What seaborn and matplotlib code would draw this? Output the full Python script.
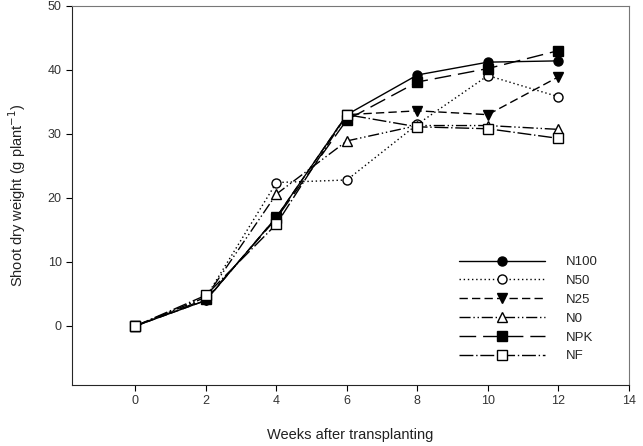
import numpy as np
import pandas as pd
import seaborn as sns
import matplotlib.pyplot as plt

# weeks after transplanting
weeks = [0, 2, 4, 6, 8, 10, 12]

# shoot dry weight per treatment (g plant-1)
n100 = [0, 4.0, 17.0, 33.0, 39.2, 41.2, 41.4]
n50 = [0, 4.5, 22.4, 22.8, 31.5, 39.1, 35.8]
n25 = [0, 4.0, 17.0, 33.0, 33.6, 33.0, 38.9]
n0 = [0, 4.5, 20.6, 28.9, 31.3, 31.3, 30.7]
npk = [0, 4.2, 16.8, 32.2, 38.1, 40.2, 43.0]
nf = [0, 4.8, 15.9, 33.0, 31.1, 30.8, 29.3]

treatments = ["N100", "N50", "N25", "N0", "NPK", "NF"]
series = [n100, n50, n25, n0, npk, nf]

rows = []
for name, vals in zip(treatments, series):
    for w, v in zip(weeks, vals):
        rows.append({"Week": w, "Weight": v, "Treatment": name})
df = pd.DataFrame(rows)

sns.set_style("ticks")
plt.rcParams['font.family'] = ['Liberation Sans', 'DejaVu Sans']

fig = plt.figure(figsize=(6.43, 4.46), dpi=100)
ax = fig.add_axes([0.112, 0.137, 0.866, 0.850])

markers = {"N100": "o", "N50": "o", "N25": "v", "N0": "^", "NPK": "s", "NF": "s"}
dashes = {"N100": "", "N50": (1, 2), "N25": (6, 3), "N0": (8, 2, 1, 2, 1, 2),
          "NPK": (12, 5), "NF": (10, 2, 1, 2)}
palette = {t: "black" for t in treatments}

sns.lineplot(data=df, x="Week", y="Weight", hue="Treatment", style="Treatment",
             markers=markers, dashes=dashes, palette=palette, ax=ax,
             linewidth=1.0, markersize=6.5, legend=False)

# open markers get white fill
facecols = {"N100": "black", "N50": "white", "N25": "black", "N0": "white", "NPK": "black", "NF": "white"}
for line, name in zip(ax.get_lines(), treatments):
    line.set_markerfacecolor(facecols[name])
    line.set_markeredgecolor("black")
    line.set_markeredgewidth(1.0)
    line.set_label(name)

ax.legend(loc="lower right", bbox_to_anchor=(0.965, 0.028), frameon=False,
          handlelength=6.5, fontsize=9.5, labelspacing=0.5, handletextpad=1.6)

ax.set_xlim(-1.8, 14)
ax.set_ylim(-9.2, 50)
ax.set_xticks(np.arange(0, 15, 2))
ax.set_yticks(np.arange(0, 51, 10))
ax.tick_params(labelsize=9, colors="#333333", length=4)
ax.tick_params(axis="both", color="black")
ax.set_xlabel("Weeks after transplanting", fontsize=10.5, color="#222222", labelpad=15)
ax.set_ylabel("Shoot dry weight (g plant$^{-1}$)", fontsize=10.5, color="#222222", labelpad=14)
for side in ["top", "right"]:
    ax.spines[side].set_color("#777777")

fig.savefig("out.png", dpi=100)
